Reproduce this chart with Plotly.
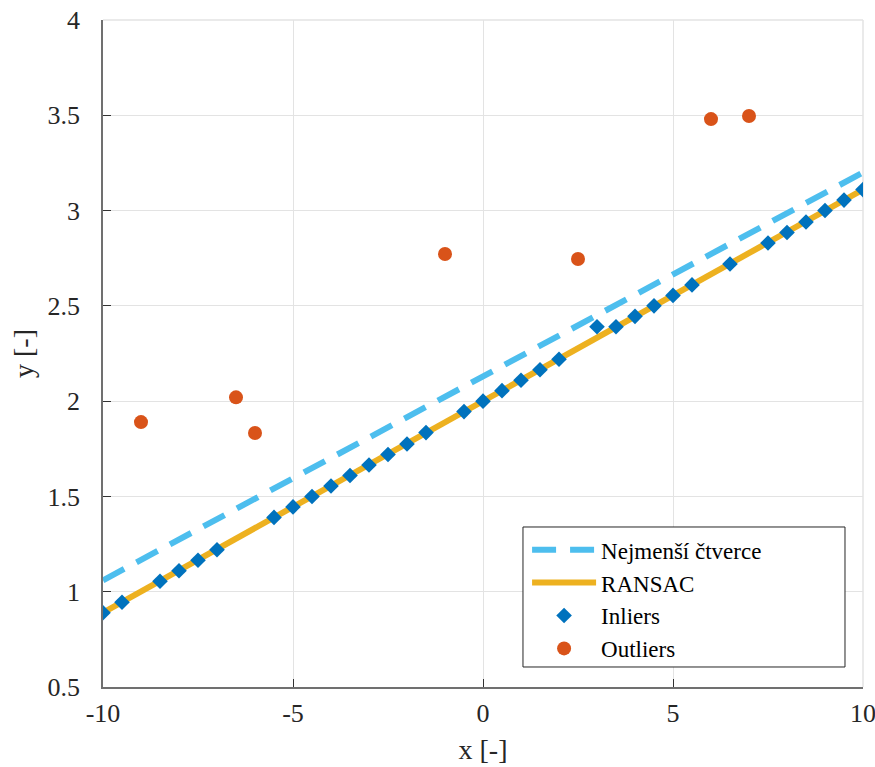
import plotly.graph_objects as go

# Inliers
inlier_x = [-10, -9.5, -8.5, -8, -7.5, -7, -5.5, -5, -4.5, -4, -3.5, -3, -2.5, -2, -1.5,
            -0.5, 0, 0.5, 1, 1.5, 2, 3, 3.5, 4, 4.5, 5, 5.5, 6.5, 7.5, 8, 8.5, 9, 9.5, 10]
inlier_y = [0.89, 0.945, 1.055, 1.11, 1.165, 1.22, 1.39, 1.445, 1.5, 1.555, 1.61, 1.665, 1.72,
            1.775, 1.835, 1.945, 2.0, 2.055, 2.11, 2.165, 2.22, 2.39, 2.39, 2.445, 2.5, 2.555,
            2.61, 2.72, 2.83, 2.885, 2.94, 3.0, 3.055, 3.11]

# Outliers
outlier_x = [-9, -6.5, -6, -1, 2.5, 6, 7]
outlier_y = [1.89, 2.02, 1.833, 2.772, 2.746, 3.48, 3.496]

# Least squares fit line
ls_x = [-10, 10]
ls_y = [1.06, 3.20]

# RANSAC fit line
ransac_x = [-10, 10]
ransac_y = [0.89, 3.11]

# Tick labels
x_ticks = [-10, -5, 0, 5, 10]
x_ticktext = ["-10", "-5", "0", "5", "10"]
y_ticks = [0.5, 1, 1.5, 2, 2.5, 3, 3.5, 4]
y_ticktext = ["0.5", "1", "1.5", "2", "2.5", "3", "3.5", "4"]

FONT = "Liberation Serif, Times New Roman, serif"

fig = go.Figure()
fig.add_trace(go.Scatter(x=ls_x, y=ls_y, mode="lines", name="Nejmenší čtverce",
                         line=dict(color="#4DBEEE", width=6, dash="24px,14px")))
fig.add_trace(go.Scatter(x=ransac_x, y=ransac_y, mode="lines", name="RANSAC",
                         line=dict(color="#EDB120", width=6)))
fig.add_trace(go.Scatter(x=inlier_x, y=inlier_y, mode="markers", name="Inliers",
                         marker=dict(symbol="diamond", size=12, color="#0072BD")))
fig.add_trace(go.Scatter(x=outlier_x, y=outlier_y, mode="markers", name="Outliers",
                         marker=dict(symbol="circle", size=14, color="#D95319")))

axis_common = dict(
    showgrid=True, gridcolor="#E3E3E3", gridwidth=1,
    showline=True, linecolor="#707070", linewidth=1.5,
    ticks="inside", ticklen=8, tickcolor="#333333", tickwidth=1,
    zeroline=False, mirror=False, automargin=False,
    ticklabeloverflow="allow",
    tickfont=dict(family=FONT, size=26, color="#262626"),
)

fig.update_xaxes(range=[-10, 10], tickmode="array", tickvals=x_ticks, ticktext=x_ticktext,
                 ticklabelstandoff=2,
                 title=dict(text="x [-]", font=dict(family=FONT, size=28, color="#262626"),
                            standoff=12),
                 **axis_common)
fig.update_yaxes(range=[0.5, 4], tickmode="array", tickvals=y_ticks, ticktext=y_ticktext,
                 ticklabelstandoff=16,
                 title=dict(text="y [-]", font=dict(family=FONT, size=28, color="#262626"),
                            standoff=6),
                 **axis_common)

# top/right light frame (gridline-like)
fig.add_shape(type="line", xref="paper", yref="paper", x0=0, x1=1, y0=1, y1=1,
              line=dict(color="#E3E3E3", width=1.5), layer="below")
fig.add_shape(type="line", xref="paper", yref="paper", x0=1, x1=1, y0=0, y1=1,
              line=dict(color="#E3E3E3", width=1.5), layer="below")
# legend box
fig.add_shape(type="rect", xref="paper", yref="paper", x0=0.5526, x1=0.9763, y0=0.030, y1=0.2399,
              line=dict(color="#262626", width=1), fillcolor="white", layer="above")

fig.update_layout(
    width=875, height=767,
    margin=dict(l=103, r=12, t=20, b=80, autoexpand=False),
    paper_bgcolor="white", plot_bgcolor="white",
    font=dict(family=FONT, color="#262626"),
    showlegend=True,
    legend=dict(x=0.558, y=0.238, xanchor="left", yanchor="top",
                bgcolor="rgba(0,0,0,0)", borderwidth=0,
                font=dict(family=FONT, size=23, color="#000000"),
                itemwidth=64, tracegroupgap=0),
)

fig.write_html("out.html")
